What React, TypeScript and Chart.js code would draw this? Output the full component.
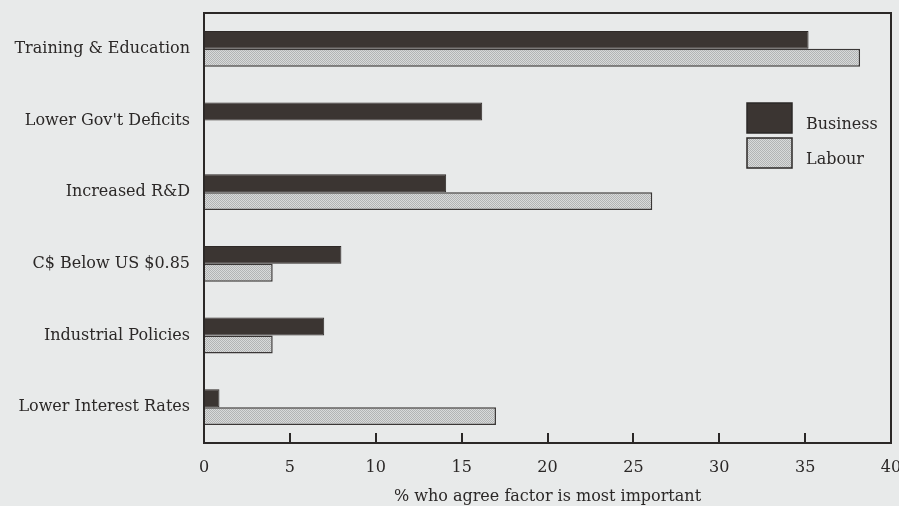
import { useEffect, useRef } from "react";
import { Chart, registerables } from "chart.js";

Chart.register(...registerables);

// Factors and the share (%) of each group naming it most important
const categories = [
  "Training & Education",
  "Lower Gov't Deficits",
  "Increased R&D",
  "C$ Below US $0.85",
  "Industrial Policies",
  "Lower Interest Rates",
];
const businessValues = [35.2, 16.2, 14.1, 8.0, 7.0, 0.9];
const labourValues = [38.2, 0, 26.1, 4.0, 4.0, 17.0];
const seriesNames = ["Business", "Labour"];
const xTickValues = [0, 5, 10, 15, 20, 25, 30, 35, 40];
const xAxisTitle = "% who agree factor is most important";

const FONT = "'DejaVu Serif', 'Liberation Serif', serif";
const PAGE_BG = "#e8eaea";
const INK = "#2b2827";
const DARK = "#3b3532";

function makeDotPattern(): CanvasPattern | string {
  const c = document.createElement("canvas");
  c.width = 2;
  c.height = 2;
  const g = c.getContext("2d");
  if (!g) return "#c6c8c8";
  g.fillStyle = "#d8dada";
  g.fillRect(0, 0, 2, 2);
  g.fillStyle = "#b2b4b4";
  g.fillRect(0, 0, 1, 1);
  g.fillRect(1, 1, 1, 1);
  return g.createPattern(c, "repeat") || "#c6c8c8";
}

// Page background behind everything
const backgroundPlugin = {
  id: "pageBackground",
  beforeDraw(chart: any) {
    const { ctx, width, height } = chart;
    ctx.save();
    ctx.fillStyle = PAGE_BG;
    ctx.fillRect(0, 0, width, height);
    ctx.restore();
  },
};

// Frame around the plot, inward tick marks on the value axis, and the legend
const framePlugin = {
  id: "frameAndLegend",
  afterDraw(chart: any) {
    const { ctx, chartArea } = chart;
    const x = chart.scales.x;
    ctx.save();
    ctx.strokeStyle = INK;
    ctx.lineWidth = 2;
    ctx.strokeRect(
      chartArea.left,
      chartArea.top,
      chartArea.right - chartArea.left,
      chartArea.bottom - chartArea.top
    );

    // short inward tick marks along the bottom edge
    ctx.fillStyle = INK;
    for (const v of xTickValues) {
      if (v <= 0 || v >= 40) continue;
      const px = Math.round(x.getPixelForValue(v));
      ctx.fillRect(px - 1, chartArea.bottom - 10, 2, 10);
    }

    // legend
    const boxX = chartArea.right - 144;
    let boxY = chartArea.top + 90;
    chart.data.datasets.forEach((ds: any) => {
      ctx.fillStyle = ds.backgroundColor;
      ctx.fillRect(boxX, boxY, 45, 30);
      ctx.strokeStyle = INK;
      ctx.lineWidth = 1.5;
      ctx.strokeRect(boxX, boxY, 45, 30);
      ctx.fillStyle = INK;
      ctx.font = `16px ${FONT}`;
      ctx.textAlign = "left";
      ctx.textBaseline = "alphabetic";
      ctx.fillText(ds.label, boxX + 59, boxY + 26);
      boxY += 35;
    });
    ctx.restore();
  },
};

export default function App() {
  const canvasRef = useRef<HTMLCanvasElement | null>(null);

  useEffect(() => {
    document.body.style.margin = "0";
    document.body.style.background = PAGE_BG;
    const canvas = canvasRef.current;
    if (!canvas) return;
    const labourFill = makeDotPattern();

    const chart = new Chart(canvas, {
      type: "bar",
      data: {
        labels: categories,
        datasets: [
          {
            label: seriesNames[0],
            data: businessValues,
            backgroundColor: DARK,
            borderColor: "#2e2927",
            borderWidth: 1,
            categoryPercentage: 0.5,
            barPercentage: 1,
          },
          {
            label: seriesNames[1],
            data: labourValues,
            backgroundColor: labourFill as any,
            borderColor: "#3a3736",
            borderWidth: 1.5,
            categoryPercentage: 0.5,
            barPercentage: 1,
          },
        ],
      },
      plugins: [backgroundPlugin, framePlugin],
      options: {
        indexAxis: "y",
        animation: false,
        responsive: true,
        maintainAspectRatio: false,
        layout: { padding: { top: 13, right: 8, left: 0, bottom: 0 } },
        plugins: {
          legend: { display: false },
          tooltip: { enabled: false },
        },
        scales: {
          x: {
            min: 0,
            max: 40,
            afterBuildTicks(scale: any) {
              scale.ticks = xTickValues.map((v) => ({ value: v }));
            },
            afterFit(scale: any) {
              scale.height = 63;
              scale.paddingLeft = 0;
              scale.paddingRight = 0;
            },
            grid: { display: false, drawTicks: false },
            border: { display: false },
            ticks: {
              color: INK,
              font: { family: FONT, size: 16 },
              padding: 15,
              maxRotation: 0,
            },
            title: {
              display: true,
              text: xAxisTitle,
              color: INK,
              font: { family: FONT, size: 16 },
              padding: { top: 0, bottom: 0 },
            },
          },
          y: {
            afterFit(scale: any) {
              scale.width = 204;
              scale.paddingTop = 0;
              scale.paddingBottom = 0;
            },
            grid: { display: false, drawTicks: false },
            border: { display: false },
            ticks: {
              color: INK,
              font: { family: FONT, size: 16 },
              padding: 14,
            },
          },
        },
      },
    });
    return () => chart.destroy();
  }, []);

  return (
    <div style={{ width: 899, height: 506, position: "relative" }}>
      <canvas ref={canvasRef} />
    </div>
  );
}
